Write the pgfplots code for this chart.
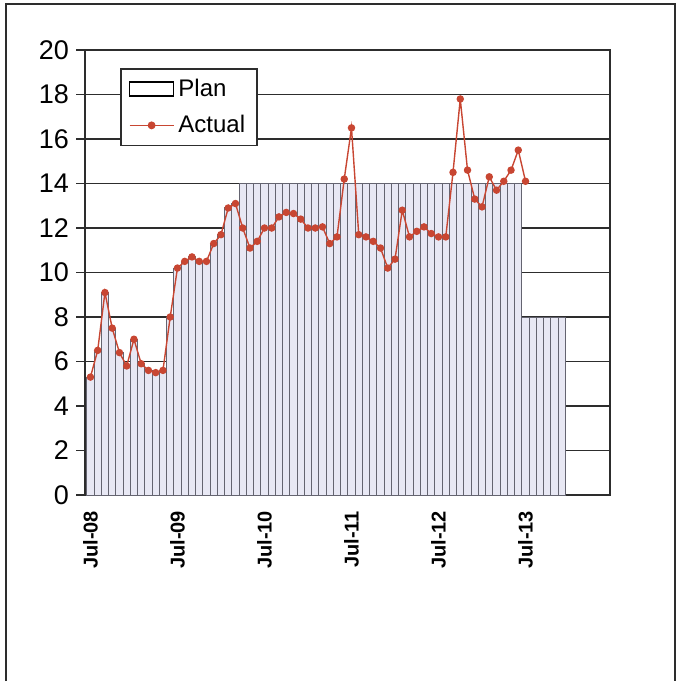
\documentclass[border=0pt]{standalone}
\usepackage{pgfplots}
\pgfplotsset{compat=1.18}
\usepackage{pgfplotstable}
\usepackage{fontspec}
\setmainfont{Liberation Sans}
\definecolor{actred}{RGB}{200,70,50}
\definecolor{barfill}{RGB}{232,232,244}
\definecolor{barline}{RGB}{100,100,112}
\definecolor{gridc}{RGB}{45,45,45}

\pgfplotstableread{
x y
0 5.3
1 6.5
2 9.1
3 7.5
4 6.4
5 5.8
6 7.0
7 5.9
8 5.6
9 5.5
10 5.6
11 8.0
12 10.2
13 10.5
14 10.7
15 10.5
16 10.5
17 11.3
18 11.7
19 12.9
20 13.1
21 12.0
22 11.1
23 11.4
24 12.0
25 12.0
26 12.5
27 12.7
28 12.65
29 12.4
30 12.0
31 12.0
32 12.05
33 11.3
34 11.6
35 14.2
36 16.5
37 11.7
38 11.6
39 11.4
40 11.1
41 10.2
42 10.6
43 12.8
44 11.6
45 11.85
46 12.05
47 11.75
48 11.6
49 11.6
50 14.5
51 17.8
52 14.6
53 13.3
54 12.95
55 14.3
56 13.7
57 14.1
58 14.6
59 15.5
60 14.1
}\actual

\pgfplotstableread{
x y
0 5.3
1 6.5
2 9.1
3 7.5
4 6.4
5 5.8
6 7.0
7 5.9
8 5.6
9 5.5
10 5.6
11 8.0
12 10.2
13 10.5
14 10.7
15 10.5
16 10.5
17 11.3
18 11.7
19 12.9
20 13.1
21 14
22 14
23 14
24 14
25 14
26 14
27 14
28 14
29 14
30 14
31 14
32 14
33 14
34 14
35 14
36 14
37 14
38 14
39 14
40 14
41 14
42 14
43 14
44 14
45 14
46 14
47 14
48 14
49 14
50 14
51 14
52 14
53 14
54 14
55 14
56 14
57 14
58 14
59 14
60 8
61 8
62 8
63 8
64 8
65 8
}\plan

\begin{document}
\begin{tikzpicture}[x=0.5pt,y=0.5pt]
\path[use as bounding box] (0,0) rectangle (683,681);
\draw[gridc, line width=0.8pt] (6,0) -- (6,677) -- (675,677) -- (675,0);
\begin{axis}[
  at={(42.5pt,93pt)}, anchor=south west,
  scale only axis, width=262.5pt, height=222.5pt,
  xmin=-0.75, xmax=71.65, ymin=0, ymax=20,
  ytick={0,2,...,20},
  xtick={0,12,24,36,48,60},
  xticklabels={Jul-08,Jul-09,Jul-10,Jul-11,Jul-12,Jul-13},
  x tick label style={rotate=90, anchor=east, font=\fontsize{10}{12}\selectfont\bfseries},
  y tick label style={font=\fontsize{13.5}{16}\selectfont},
  /pgf/number format/assume math mode=true,
  ymajorgrids, grid style={gridc, line width=0.7pt},
  axis line style={gridc, line width=0.8pt},
  tick align=outside, major tick length=4.5pt,
  ytick pos=left,
  x tick style={draw=none},
  y tick style={gridc, line width=0.7pt},
  legend cell align=left,
  legend style={at={(0.0667,0.9596)}, anchor=north west, draw=gridc, line width=0.8pt,
    fill=white, font=\fontsize{12}{14}\selectfont, inner xsep=4pt, inner ysep=3pt,
    row sep=4pt},
]
\addplot[ybar, bar width=1, bar shift=0, fill=barfill, draw=barline, line width=0.5pt,
  legend image code/.code={\draw[black, fill=white, line width=0.6pt] (0pt,-3.5pt) rectangle (22pt,3.5pt);}]
  table {\plan};
\addlegendentry{Plan}
\addplot[actred, line width=0.7pt, mark=*, mark size=1.5pt, mark options={fill=actred, draw=actred},
  legend image code/.code={\draw[actred, line width=0.8pt] (0pt,0pt) -- (22pt,0pt); \fill[actred] (11pt,0pt) circle (1.6pt);}]
  table {\actual};
\addlegendentry{Actual}
\end{axis}
\end{tikzpicture}
\end{document}
